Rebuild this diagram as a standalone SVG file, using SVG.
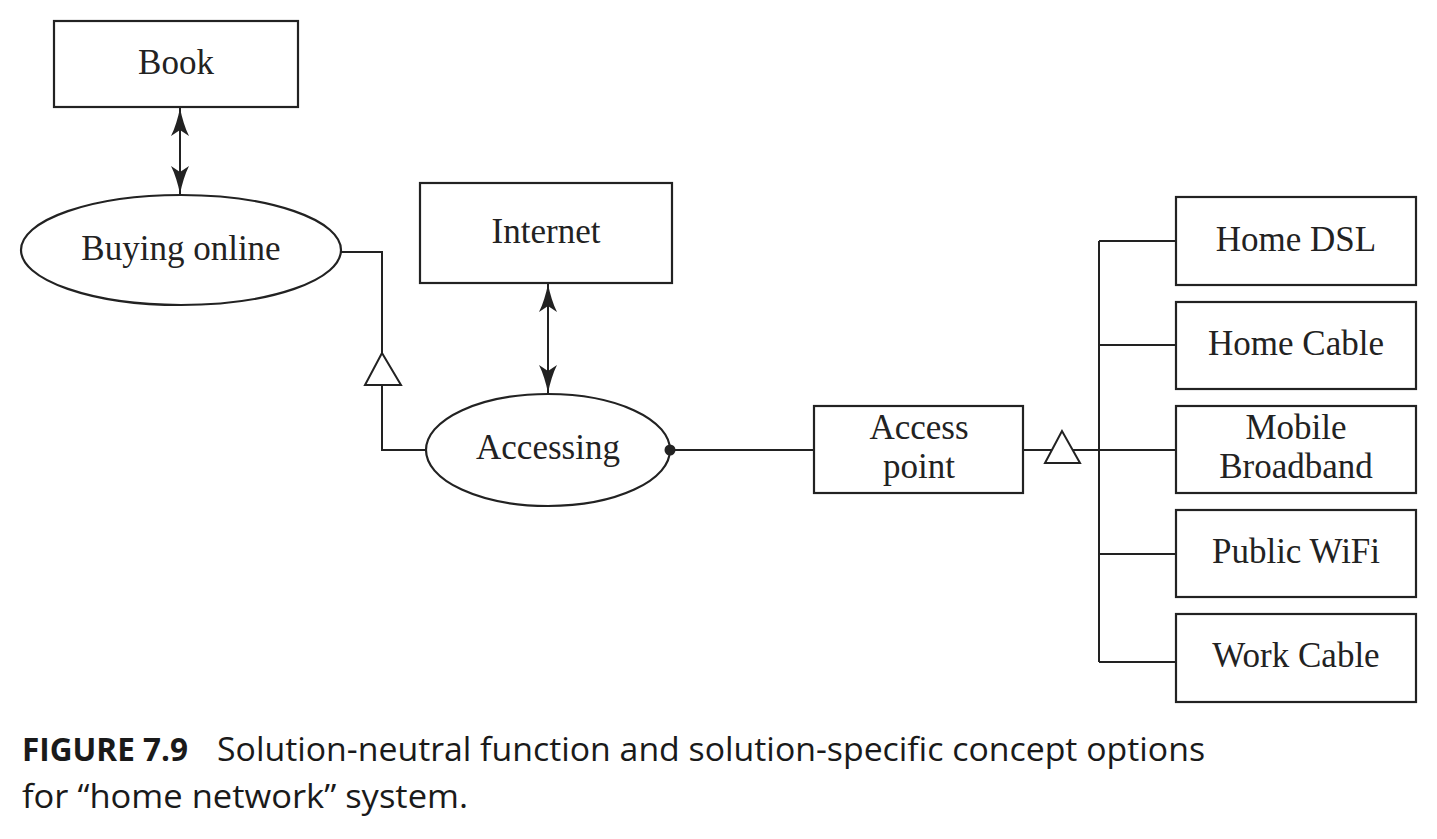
<svg xmlns="http://www.w3.org/2000/svg" width="1437" height="839" viewBox="0 0 1437 839">
<style>
.box{fill:#fff;stroke:#222;stroke-width:2.2}
.ell{fill:#fff;stroke:#222;stroke-width:2.2}
.ln{fill:none;stroke:#222;stroke-width:2}
.tri{fill:#fff;stroke:#222;stroke-width:2}
.lbl{font-family:"Liberation Serif","Times New Roman",serif;font-size:35px;fill:#222;text-anchor:middle}
.cap{font-family:"Open Sans","Liberation Sans",Arial,sans-serif;font-size:32px;fill:#1a1a1a}
</style>
<defs>
<marker id="ah" viewBox="0 0 28 18" refX="28" refY="9" markerWidth="28" markerHeight="18" markerUnits="userSpaceOnUse" orient="auto-start-reverse">
<path d="M28,9 C18,11 8,14 0,18 L6,9 L0,0 C8,4 18,7 28,9 Z" fill="#222"/>
</marker>
</defs>
<rect width="1437" height="839" fill="#fff"/>
<g id="connectors">
<line class="ln" x1="180" y1="108" x2="180" y2="194" marker-start="url(#ah)" marker-end="url(#ah)"/>
<line class="ln" x1="548" y1="284" x2="548" y2="393" marker-start="url(#ah)" marker-end="url(#ah)"/>
<polyline class="ln" points="341,252 382,252 382,450 426,450"/>
<polygon class="tri" points="382,353 365,385 401,385"/>
<line class="ln" x1="670" y1="450" x2="814" y2="450"/>
<line class="ln" x1="1023" y1="450" x2="1099" y2="450"/>
<polygon class="tri" points="1062,431 1045,463 1080,463"/>
<line class="ln" x1="1099" y1="241" x2="1099" y2="662"/>
<line class="ln" x1="1099" y1="241" x2="1176" y2="241"/>
<line class="ln" x1="1099" y1="345" x2="1176" y2="345"/>
<line class="ln" x1="1099" y1="450" x2="1176" y2="450"/>
<line class="ln" x1="1099" y1="554" x2="1176" y2="554"/>
<line class="ln" x1="1099" y1="662" x2="1176" y2="662"/>
</g>
<g id="book"><rect class="box" x="54" y="21" width="244" height="86"/><text class="lbl" x="176" y="74">Book</text></g>
<g id="buying-online"><ellipse class="ell" cx="181" cy="250" rx="160" ry="55"/><text class="lbl" x="181" y="260">Buying online</text></g>
<g id="internet"><rect class="box" x="420" y="183" width="252" height="100"/><text class="lbl" x="546" y="243">Internet</text></g>
<g id="accessing"><ellipse class="ell" cx="548" cy="450" rx="122" ry="56"/><text class="lbl" x="548" y="459">Accessing</text><circle cx="670" cy="450" r="5.5" fill="#222"/></g>
<g id="access-point"><rect class="box" x="814" y="406" width="209" height="87"/><text class="lbl" x="919" y="439">Access</text><text class="lbl" x="919" y="478">point</text></g>
<g id="home-dsl"><rect class="box" x="1176" y="197" width="240" height="88"/><text class="lbl" x="1296" y="251">Home DSL</text></g>
<g id="home-cable"><rect class="box" x="1176" y="302" width="240" height="87"/><text class="lbl" x="1296" y="355">Home Cable</text></g>
<g id="mobile-broadband"><rect class="box" x="1176" y="406" width="240" height="87"/><text class="lbl" x="1296" y="439">Mobile</text><text class="lbl" x="1296" y="478">Broadband</text></g>
<g id="public-wifi"><rect class="box" x="1176" y="510" width="240" height="87"/><text class="lbl" x="1296" y="563">Public WiFi</text></g>
<g id="work-cable"><rect class="box" x="1176" y="614" width="240" height="88"/><text class="lbl" x="1296" y="667">Work Cable</text></g>
<g id="caption">
<text class="cap" x="22" y="761" font-weight="bold" textLength="166" lengthAdjust="spacingAndGlyphs">FIGURE 7.9</text>
<text class="cap" x="217" y="761" textLength="988" lengthAdjust="spacingAndGlyphs">Solution-neutral function and solution-specific concept options</text>
<text class="cap" x="22" y="808" textLength="446" lengthAdjust="spacingAndGlyphs">for “home network” system.</text>
</g>
</svg>
